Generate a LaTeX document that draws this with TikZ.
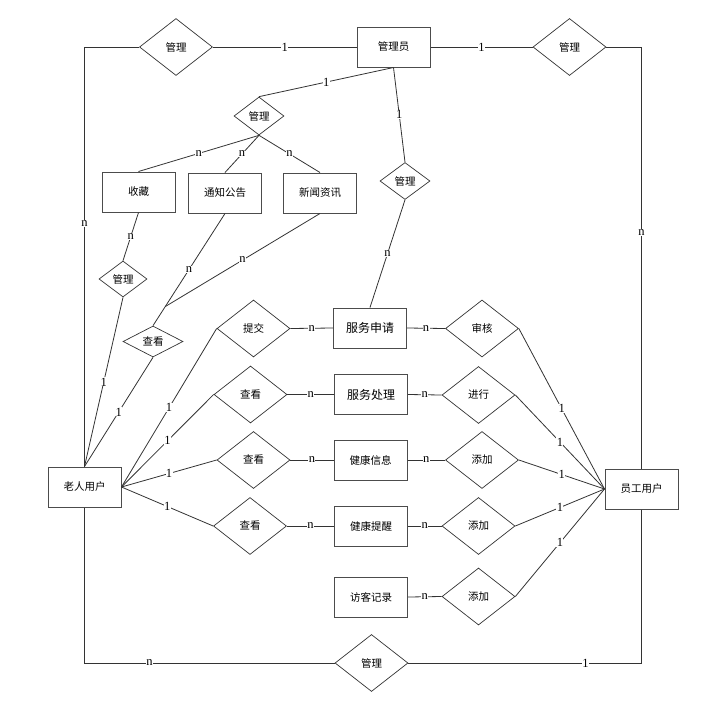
\documentclass[tikz,border=0pt]{standalone}
\usepackage{fontspec}
\setmainfont{Liberation Serif}
\newfontfamily\cjk{Noto Sans CJK SC}
\usetikzlibrary{shapes.geometric,calc}
\begin{document}
\begin{tikzpicture}[x=1pt,y=-1pt,
 ent/.style={draw=black!70,line width=1pt,rectangle,minimum width=73pt,minimum height=40pt,inner sep=0pt,font=\cjk\fontsize{10.5}{12}\selectfont},
 bigent/.style={ent,font=\cjk\fontsize{12}{14}\selectfont},
 rel/.style={draw=black!80,line width=0.7pt,diamond,inner sep=0pt,minimum width=73pt,minimum height=57pt,font=\cjk\fontsize{10.5}{12}\selectfont},
 ln/.style={draw=black!80,line width=0.8pt},
 lab/.style={fill=white,inner sep=0.4pt,font=\fontsize{12.5}{12.5}\selectfont},
]
\path[use as bounding box] (0,0) rectangle (701,710);
% nodes
\node[ent] (adm) at (393.5,47) {管理员};
\node[rel] (mL) at (176,47) {管理};
\node[rel] (mR) at (569.5,47) {管理};
\node[rel,minimum width=50pt,minimum height=38pt] (m2) at (259,116) {管理};
\node[ent] (sc) at (138.5,192) {收藏};
\node[ent] (tz) at (225,193) {通知公告};
\node[ent] (xw) at (320,193) {新闻资讯};
\node[rel,minimum width=50pt,minimum height=37pt] (m3) at (405,181) {管理};
\node[rel,minimum width=48pt,minimum height=36pt] (m4) at (123,279) {管理};
\node[rel,minimum width=60pt,minimum height=31pt] (ck0) at (153,341.5) {查看};
\node[ent] (old) at (84.5,487) {老人用户};
\node[ent] (emp) at (641.5,489) {员工用户};
\node[rel] (tj) at (253.5,328.5) {提交};
\node[bigent] (fs) at (370,328) {服务申请};
\node[rel] (sh) at (482,328.5) {审核};
\node[rel] (ck1) at (250.5,394.5) {查看};
\node[bigent] (fc) at (371,394.5) {服务处理};
\node[rel] (jx) at (478.5,395) {进行};
\node[rel] (ck2) at (253.5,460) {查看};
\node[ent] (jk) at (370.5,460) {健康信息};
\node[rel] (tj1) at (482,460) {添加};
\node[rel] (ck3) at (250,526) {查看};
\node[ent] (tx) at (371,526) {健康提醒};
\node[rel] (tj2) at (478.5,526) {添加};
\node[ent] (fk) at (371,597) {访客记录};
\node[rel] (tj3) at (478.5,596.5) {添加};
\node[rel] (mB) at (371.5,663) {管理};
\coordinate (jn) at ($(tz.south)!0.83!(ck0.north)$);
% top connectors
\draw[ln] (adm.west) -- node[lab,pos=0.5]{1} (mL.east);
\draw[ln] (adm.east) -- node[lab,pos=0.5]{1} (mR.west);
\draw[ln] (mL.west) -| node[lab,pos=0.71]{n} (old.north);
\draw[ln] (mR.east) -| node[lab,pos=0.72]{n} (emp.north);
\draw[ln] (adm.south) -- node[lab,pos=0.5]{1} (m2.north);
\draw[ln] (m2.south) -- node[lab,pos=0.5]{n} (sc.north);
\draw[ln] (m2.south) -- node[lab,pos=0.5]{n} (tz.north);
\draw[ln] (m2.south) -- node[lab,pos=0.5]{n} (xw.north);
\draw[ln] (adm.south) -- node[lab,pos=0.5]{1} (m3.north);
\draw[ln] (m3.south) -- node[lab,pos=0.5]{n} (fs.north);
\draw[ln] (sc.south) -- node[lab,pos=0.5]{n} (m4.north);
\draw[ln] (m4.south) -- node[lab,pos=0.5]{1} (old.north);
\draw[ln] (tz.south) -- node[lab,pos=0.5]{n} (ck0.north);
\draw[ln] (xw.south) -- node[lab,pos=0.5]{n} (jn);
\draw[ln] (ck0.south) -- node[lab,pos=0.5]{1} (old.north);
% elderly links
\draw[ln] (old.east) -- node[lab,pos=0.5]{1} (tj.west);
\draw[ln] (old.east) -- node[lab,pos=0.5]{1} (ck1.west);
\draw[ln] (old.east) -- node[lab,pos=0.5]{1} (ck2.west);
\draw[ln] (old.east) -- node[lab,pos=0.5]{1} (ck3.west);
% rows
\draw[ln] (tj.east) -- node[lab,pos=0.5]{n} (fs.west);
\draw[ln] (fs.east) -- node[lab,pos=0.5]{n} (sh.west);
\draw[ln] (ck1.east) -- node[lab,pos=0.5]{n} (fc.west);
\draw[ln] (fc.east) -- node[lab,pos=0.5]{n} (jx.west);
\draw[ln] (ck2.east) -- node[lab,pos=0.5]{n} (jk.west);
\draw[ln] (jk.east) -- node[lab,pos=0.5]{n} (tj1.west);
\draw[ln] (ck3.east) -- node[lab,pos=0.5]{n} (tx.west);
\draw[ln] (tx.east) -- node[lab,pos=0.5]{n} (tj2.west);
\draw[ln] (fk.east) -- node[lab,pos=0.5]{n} (tj3.west);
% employee links
\draw[ln] (sh.east) -- node[lab,pos=0.5]{1} (emp.west);
\draw[ln] (jx.east) -- node[lab,pos=0.5]{1} (emp.west);
\draw[ln] (tj1.east) -- node[lab,pos=0.5]{1} (emp.west);
\draw[ln] (tj2.east) -- node[lab,pos=0.5]{1} (emp.west);
\draw[ln] (tj3.east) -- node[lab,pos=0.5]{1} (emp.west);
% bottom
\draw[ln] (old.south) |- node[lab,pos=0.63]{n} (mB.west);
\draw[ln] (emp.south) |- node[lab,pos=0.62]{1} (mB.east);
\end{tikzpicture}
\end{document}
